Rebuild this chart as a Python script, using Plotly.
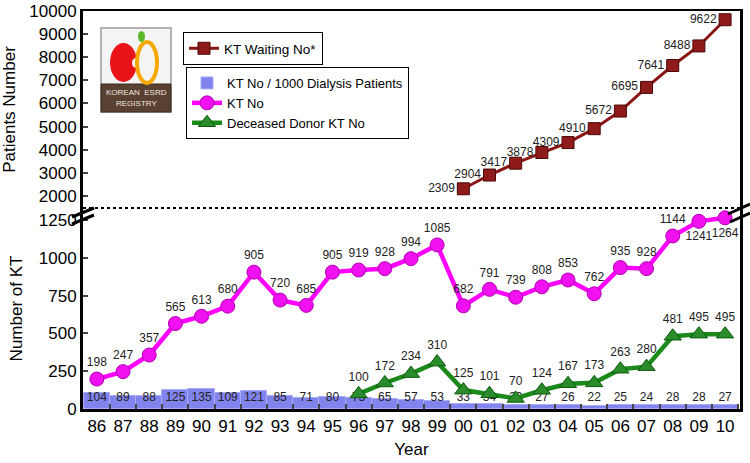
import plotly.graph_objects as go

years = ["86","87","88","89","90","91","92","93","94","95","96","97","98","99",
         "00","01","02","03","04","05","06","07","08","09","10"]
kt_per_1000 = [104,89,88,125,135,109,121,85,71,80,73,65,57,53,33,34,29,27,26,22,25,24,28,28,27]
kt_no = [198,247,357,565,613,680,905,720,685,905,919,928,994,1085,682,791,739,808,853,762,935,928,1144,1241,1264]
dd_years = years[10:]
dd_kt = [100,172,234,310,125,101,70,124,167,173,263,280,481,495,495]
wait_years = years[14:]
wait_no = [2309,2904,3417,3878,4309,4910,5672,6695,7641,8488,9622]
top_ticks = list(range(2000, 10001, 1000))
bottom_ticks = [0, 250, 500, 750, 1000, 1250]

FONT = "Liberation Sans, Arial, sans-serif"
W, H = 750, 463
L, R, T, B = 83, 10, 11, 54
PW, PH = W - L - R, H - T - B
SPLIT = (409 - 208) / PH
BAR_LABEL_Y = 73

def px(x):
    return (x - L) / PW

def py(y):
    return (H - B - y) / PH

fig = go.Figure()

fig.add_trace(go.Bar(
    x=years, y=kt_per_1000, width=1.0, name="KT No / 1000 Dialysis Patients",
    marker=dict(color="#8284ee", line=dict(color="#a9abf6", width=1)),
    legend="legend2", xaxis="x", yaxis="y"))
fig.add_trace(go.Scatter(
    x=years, y=[BAR_LABEL_Y] * len(years), text=[str(v) for v in kt_per_1000],
    mode="text", textfont=dict(size=12, color="#222", family=FONT),
    showlegend=False, hoverinfo="skip", xaxis="x", yaxis="y"))

kt_pos = ["top center"] * len(years)
kt_pos[23] = "bottom center"
kt_pos[24] = "bottom center"
fig.add_trace(go.Scatter(
    x=years, y=kt_no, name="KT No", mode="lines+markers+text",
    text=[str(v) for v in kt_no], textposition=kt_pos,
    textfont=dict(size=12, color="#222", family=FONT),
    line=dict(color="#ff00ff", width=4.5),
    marker=dict(symbol="circle", size=14, color="#f010f0", line=dict(color="#b000b0", width=1)),
    legend="legend2", xaxis="x", yaxis="y"))

fig.add_trace(go.Scatter(
    x=dd_years, y=dd_kt, name="Deceased Donor KT No", mode="lines+markers+text",
    text=[str(v) for v in dd_kt], textposition="top center",
    textfont=dict(size=12, color="#222", family=FONT),
    line=dict(color="#1b8a1b", width=4.5),
    marker=dict(symbol="triangle-up", size=15, color="#2a8c2a", line=dict(color="#0d5a0d", width=1)),
    legend="legend2", xaxis="x", yaxis="y"))

fig.add_trace(go.Scatter(
    x=wait_years, y=wait_no, name="KT Waiting No*", mode="lines+markers+text",
    text=[str(v) for v in wait_no], textposition="middle left",
    textfont=dict(size=12, color="#222", family=FONT),
    line=dict(color="#8b1414", width=3),
    marker=dict(symbol="square", size=12, color="#8f1a1a", line=dict(color="#4a0808", width=1)),
    legend="legend", xaxis="x2", yaxis="y2"))

shapes = []
shapes.append(dict(type="line", xref="paper", yref="paper", x0=0, x1=1, y0=SPLIT, y1=SPLIT,
                   line=dict(color="black", width=2, dash="dot")))
for (x0, y0, x1, y1) in [(72, 217, 94, 208), (72, 224, 94, 215),
                         (728, 214, 750, 204), (730, 222, 750, 213)]:
    shapes.append(dict(type="line", xref="paper", yref="paper",
                       x0=px(x0), y0=py(y0), x1=px(x1), y1=py(y1),
                       line=dict(color="black", width=3)))

# logo
shapes.append(dict(type="rect", xref="paper", yref="paper",
                   x0=px(101), x1=px(171), y0=py(112), y1=py(28),
                   fillcolor="#f4f4f4", line=dict(color="#9a9a9a", width=1.5)))
shapes.append(dict(type="rect", xref="paper", yref="paper",
                   x0=px(101), x1=px(171), y0=py(112), y1=py(84),
                   fillcolor="#5a4030", line=dict(color="#3d2a1e", width=1)))
shapes.append(dict(type="circle", xref="paper", yref="paper",
                   x0=px(110), x1=px(137), y0=py(82), y1=py(43),
                   fillcolor="#e8141a", line=dict(color="#e8141a", width=0)))
shapes.append(dict(type="circle", xref="paper", yref="paper",
                   x0=px(132), x1=px(140), y0=py(68), y1=py(58),
                   fillcolor="#f4f4f4", line=dict(width=0)))
shapes.append(dict(type="circle", xref="paper", yref="paper",
                   x0=px(137), x1=px(157), y0=py(83), y1=py(42),
                   fillcolor="rgba(0,0,0,0)", line=dict(color="#f5a800", width=4)))
shapes.append(dict(type="circle", xref="paper", yref="paper",
                   x0=px(138), x1=px(145), y0=py(42), y1=py(31),
                   fillcolor="#5cb82a", line=dict(width=0)))

annotations = [
    dict(x=px(136), y=py(92), xref="paper", yref="paper", text="KOREAN  ESRD",
         xanchor="center", yanchor="middle",
         showarrow=False, font=dict(size=8, color="#f0e8e0", family=FONT)),
    dict(x=px(136), y=py(104), xref="paper", yref="paper", text="REGISTRY",
         xanchor="center", yanchor="middle",
         showarrow=False, font=dict(size=8, color="#f0e8e0", family=FONT)),
]

axis_font = dict(size=17, color="black", family=FONT)
fig.update_layout(
    width=W, height=H, margin=dict(l=L, r=R, t=T, b=B, autoexpand=False),
    paper_bgcolor="white", plot_bgcolor="white",
    font=dict(family=FONT, color="black"),
    bargap=0,
    xaxis=dict(type="category", range=[-0.53, 24.57], anchor="y", automargin=False,
               showline=True, linecolor="black", linewidth=3, tickangle=0,
               ticks="inside", ticklen=5, tickwidth=2, tickson="boundaries",
               tickfont=axis_font, showgrid=False,
               title=dict(text="Year", font=dict(size=17, family=FONT), standoff=8)),
    xaxis2=dict(type="category", range=[-0.53, 24.57], anchor="y2", matches="x",
                automargin=False,
                side="top", showline=True, linecolor="black", linewidth=2,
                showticklabels=False, ticks="", showgrid=False),
    yaxis=dict(domain=[0, SPLIT], range=[0, 1329], anchor="x", automargin=False,
               tickvals=bottom_ticks, ticktext=[str(v) for v in bottom_ticks],
               showline=True, linecolor="black", linewidth=3, mirror=True,
               ticks="inside", ticklen=5, tickwidth=2, tickfont=axis_font,
               showgrid=False, zeroline=False,
               title=dict(text="Number of KT", font=dict(size=17, family=FONT), standoff=12)),
    yaxis2=dict(domain=[SPLIT, 1], range=[1478, 10000], anchor="x2", automargin=False,
                tickvals=top_ticks, ticktext=[str(v) for v in top_ticks],
                showline=True, linecolor="black", linewidth=3, mirror=True,
                ticks="inside", ticklen=5, tickwidth=2, tickfont=axis_font,
                showgrid=False, zeroline=False,
                title=dict(text="Patients Number", font=dict(size=17, family=FONT), standoff=12)),
    legend=dict(x=px(183), y=py(32), xanchor="left", yanchor="top",
                bgcolor="white", bordercolor="black", borderwidth=1,
                font=dict(size=13.5, family=FONT), tracegroupgap=0,
                itemwidth=30),
    legend2=dict(x=px(186), y=py(67), xanchor="left", yanchor="top",
                 bgcolor="white", bordercolor="black", borderwidth=1,
                 font=dict(size=13, family=FONT), tracegroupgap=0,
                 itemwidth=30, traceorder="normal"),
    shapes=shapes, annotations=annotations,
)

fig.write_html("out.html", config={"displayModeBar": False},
               post_script="document.body.style.margin='0';document.body.style.overflow='hidden';")
